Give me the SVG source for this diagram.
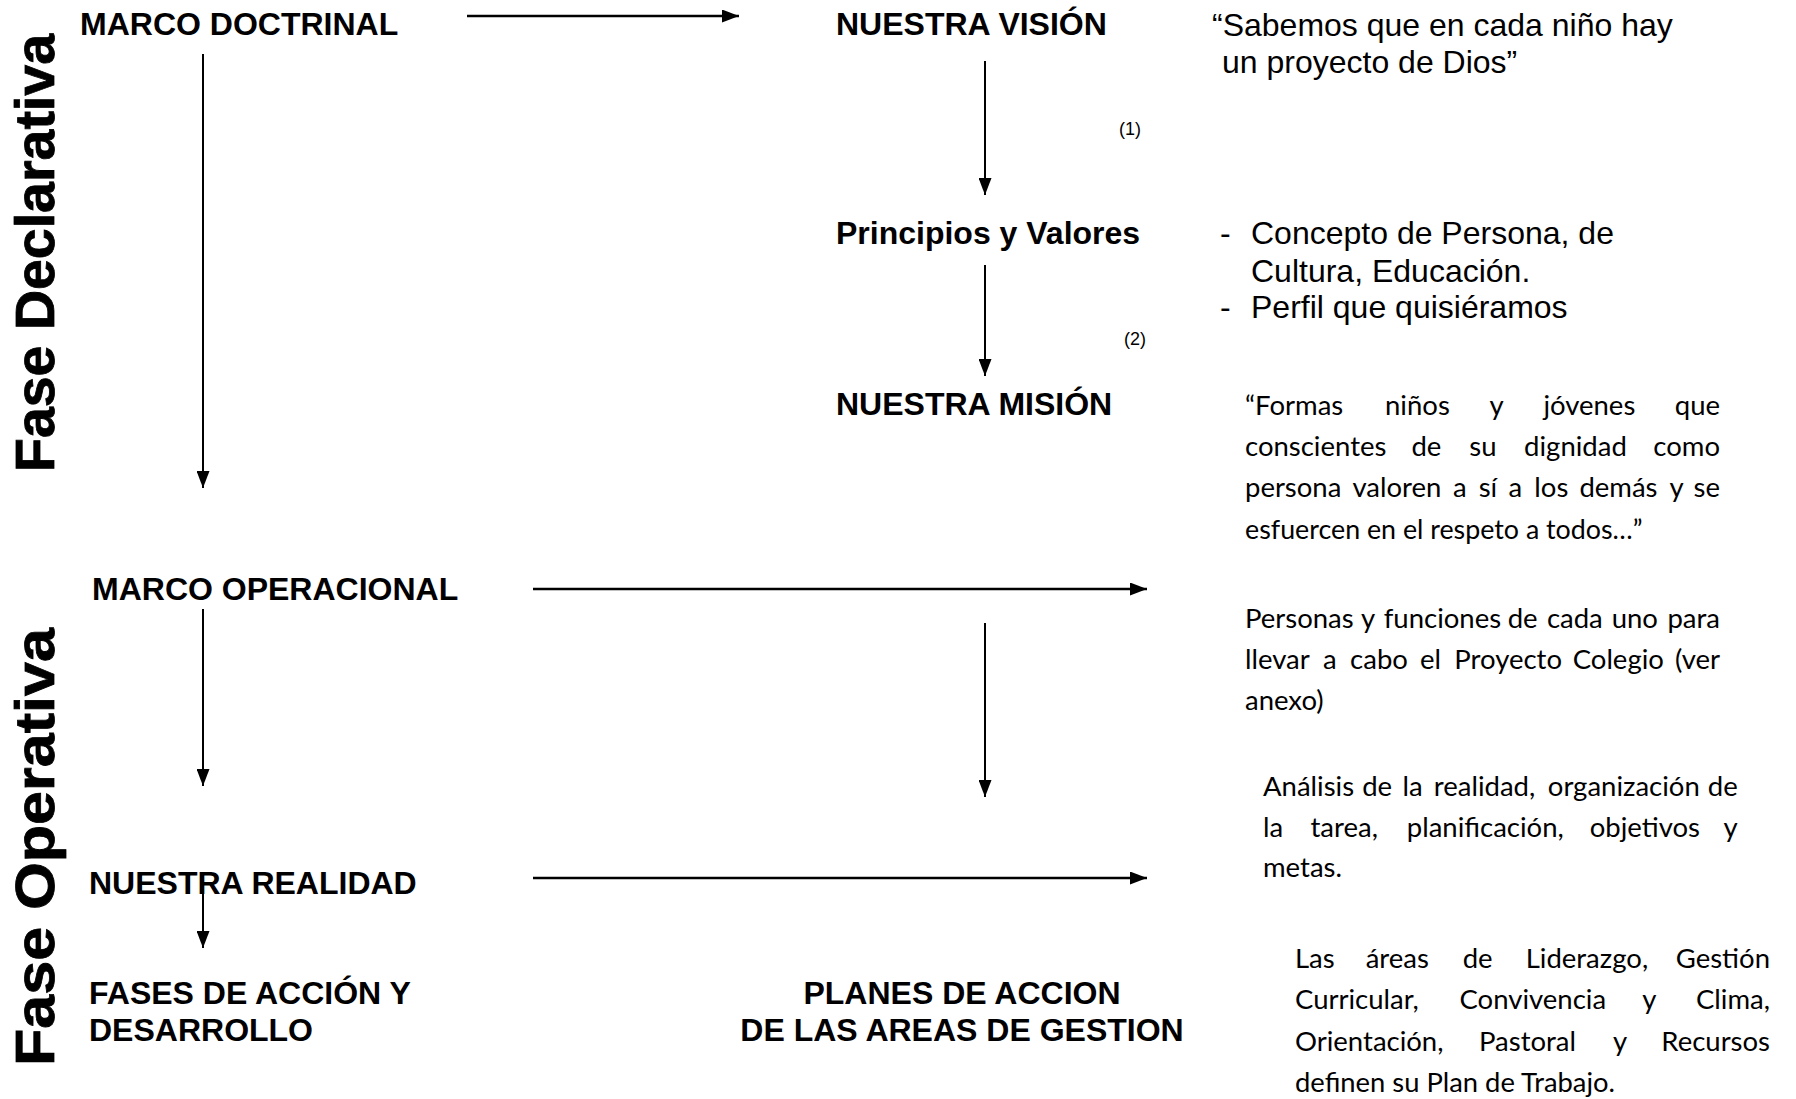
<svg xmlns="http://www.w3.org/2000/svg" width="1796" height="1099" viewBox="0 0 1796 1099">
<style>
text{fill:#000}
.b{font-family:"Liberation Sans",Arial,sans-serif;font-weight:bold;font-size:32px}
.r{font-family:"Liberation Sans",Arial,sans-serif;font-size:32px}
.c{font-family:Lato,"Open Sans",sans-serif;font-size:27.5px}
.side{font-family:"Liberation Sans",Arial,sans-serif;font-weight:bold;font-size:56px;stroke:#000;stroke-width:0.8}
.n{font-family:"Liberation Sans",Arial,sans-serif;font-size:18px}
.h{stroke:#000;stroke-width:2.5;fill:none}
.v{stroke:#000;stroke-width:2;fill:none}
</style>
<defs>
<marker id="ah" markerUnits="userSpaceOnUse" markerWidth="17" markerHeight="13" refX="17" refY="6.5" orient="auto">
<path d="M0,0 L17,6.5 L0,13 Z" fill="#000"/>
</marker>
</defs>
<rect width="1796" height="1099" fill="#fff"/>

<g id="fase-declarativa"><text class="side" transform="translate(54,472) rotate(-90)" textLength="438" lengthAdjust="spacingAndGlyphs">Fase Declarativa</text></g>
<g id="fase-operativa"><text class="side" transform="translate(54,1066) rotate(-90)" textLength="438" lengthAdjust="spacingAndGlyphs">Fase Operativa</text></g>

<g id="connectors">
<line class="h" x1="467" y1="16" x2="739" y2="16" marker-end="url(#ah)"/>
<line class="v" x1="203" y1="54" x2="203" y2="488" marker-end="url(#ah)"/>
<line class="v" x1="985" y1="61" x2="985" y2="195" marker-end="url(#ah)"/>
<line class="v" x1="985" y1="265" x2="985" y2="376" marker-end="url(#ah)"/>
<line class="h" x1="533" y1="589" x2="1147" y2="589" marker-end="url(#ah)"/>
<line class="v" x1="203" y1="609" x2="203" y2="786" marker-end="url(#ah)"/>
<line class="v" x1="985" y1="623" x2="985" y2="797" marker-end="url(#ah)"/>
<line class="h" x1="533" y1="878" x2="1147" y2="878" marker-end="url(#ah)"/>
<line class="v" x1="203" y1="889" x2="203" y2="948" marker-end="url(#ah)"/>
</g>

<g id="n-marco-doctrinal"><text class="b" x="80" y="35">MARCO DOCTRINAL</text></g>
<g id="n-vision"><text class="b" x="836" y="35">NUESTRA VISIÓN</text></g>
<g id="n-principios"><text class="b" x="836" y="244">Principios y Valores</text></g>
<g id="n-mision"><text class="b" x="836" y="415">NUESTRA MISIÓN</text></g>
<g id="n-marco-operacional"><text class="b" x="92" y="600">MARCO OPERACIONAL</text></g>
<g id="n-realidad"><text class="b" x="89" y="894">NUESTRA REALIDAD</text></g>
<g id="n-fases"><text class="b" x="89" y="1004">FASES DE ACCIÓN Y</text><text class="b" x="89" y="1041">DESARROLLO</text></g>
<g id="n-planes"><text class="b" x="962" y="1004" text-anchor="middle">PLANES DE ACCION</text><text class="b" x="962" y="1041" text-anchor="middle">DE LAS AREAS DE GESTION</text></g>

<g id="label-1"><text class="n" x="1119" y="135">(1)</text></g>
<g id="label-2"><text class="n" x="1124" y="345">(2)</text></g>

<g id="t-vision">
<text class="r" x="1212" y="36">“Sabemos que en cada niño hay</text>
<text class="r" x="1222" y="73">un proyecto de Dios”</text>
</g>
<g id="t-principios">
<text class="r" x="1220" y="244">-</text><text class="r" x="1251" y="244">Concepto de Persona, de</text>
<text class="r" x="1251" y="281.5">Cultura, Educación.</text>
<text class="r" x="1220" y="318">-</text><text class="r" x="1251" y="318">Perfil que quisiéramos</text>
</g>
<g id="t-mision">
<text class="c" y="415"><tspan x="1245">“Formas</tspan><tspan x="1385">niños</tspan><tspan x="1489.5">y</tspan><tspan x="1543.4">jóvenes</tspan><tspan x="1720" text-anchor="end">que</tspan></text>
<text class="c" y="456.2"><tspan x="1245">conscientes</tspan><tspan x="1411.4">de</tspan><tspan x="1469.3">su</tspan><tspan x="1524.1">dignidad</tspan><tspan x="1720" text-anchor="end">como</tspan></text>
<text class="c" y="497.4"><tspan x="1245">persona</tspan><tspan x="1352.4">valoren</tspan><tspan x="1452.9">a</tspan><tspan x="1478.7">sí</tspan><tspan x="1508.5">a</tspan><tspan x="1534.3">los</tspan><tspan x="1579.4">demás</tspan><tspan x="1669.4">y</tspan><tspan x="1720" text-anchor="end">se</tspan></text>
<text class="c" x="1245" y="538.6" textLength="397.5" lengthAdjust="spacingAndGlyphs">esfuercen en el respeto a todos…”</text>
</g>
<g id="t-personas">
<text class="c" y="627.5"><tspan x="1245">Personas</tspan><tspan x="1361.1">y</tspan><tspan x="1383.7">funciones</tspan><tspan x="1507.7">de</tspan><tspan x="1546.9">cada</tspan><tspan x="1611.7">uno</tspan><tspan x="1720" text-anchor="end">para</tspan></text>
<text class="c" y="668.7"><tspan x="1245">llevar</tspan><tspan x="1323">a</tspan><tspan x="1350.1">cabo</tspan><tspan x="1420">el</tspan><tspan x="1454.3">Proyecto</tspan><tspan x="1572.7">Colegio</tspan><tspan x="1720" text-anchor="end">(ver</tspan></text>
<text class="c" x="1245" y="709.5">anexo)</text>
</g>
<g id="t-analisis">
<text class="c" y="796"><tspan x="1263">Análisis</tspan><tspan x="1362.2">de</tspan><tspan x="1402.6">la</tspan><tspan x="1433.8">realidad,</tspan><tspan x="1547.8">organización</tspan><tspan x="1737.7" text-anchor="end">de</tspan></text>
<text class="c" y="836.5"><tspan x="1263">la</tspan><tspan x="1310.5">tarea,</tspan><tspan x="1406.8">planificación,</tspan><tspan x="1589.7">objetivos</tspan><tspan x="1737.7" text-anchor="end">y</tspan></text>
<text class="c" x="1263" y="877">metas.</text>
</g>
<g id="t-areas">
<text class="c" y="968"><tspan x="1295">Las</tspan><tspan x="1365.7">áreas</tspan><tspan x="1462.7">de</tspan><tspan x="1525.7">Liderazgo,</tspan><tspan x="1770" text-anchor="end">Gestión</tspan></text>
<text class="c" y="1009.4"><tspan x="1295">Curricular,</tspan><tspan x="1459.5">Convivencia</tspan><tspan x="1642.3">y</tspan><tspan x="1770" text-anchor="end">Clima,</tspan></text>
<text class="c" y="1050.6"><tspan x="1295">Orientación,</tspan><tspan x="1479">Pastoral</tspan><tspan x="1613">y</tspan><tspan x="1770" text-anchor="end">Recursos</tspan></text>
<text class="c" x="1295" y="1091.5" textLength="320" lengthAdjust="spacingAndGlyphs">definen su Plan de Trabajo.</text>
</g>
</svg>
